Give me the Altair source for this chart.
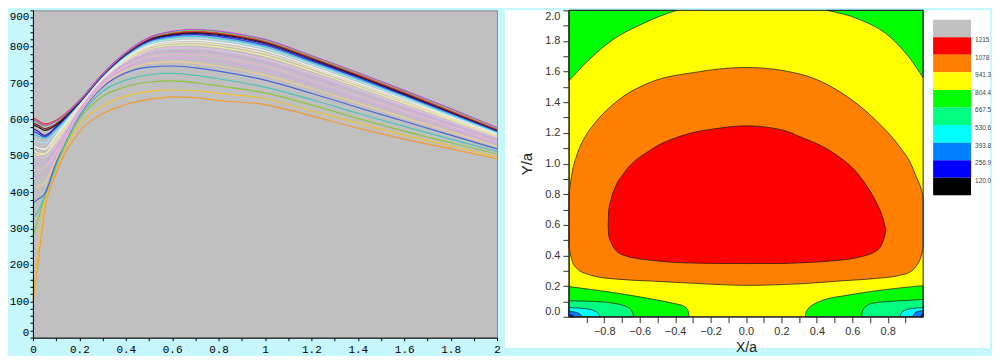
import altair as alt
import pandas as pd

# ---------------- left panel: family of curves ----------------
X = [0, 0.02, 0.05, 0.1, 0.2, 0.3, 0.4, 0.5, 0.6, 0.7, 0.8, 1.0, 1.2, 1.4, 1.6, 1.8, 2.0]

O1 = [97, 200, 350, 452, 566, 616, 641, 655, 662, 660, 652, 641, 610, 576, 546, 519, 492]
Y1 = [108, 225, 365, 466, 585, 637, 664, 677, 681, 679, 672, 657, 624, 590, 557, 527, 497]
G1 = [280, 320, 385, 470, 600, 663, 690, 703, 706, 701, 692, 673, 640, 603, 568, 536, 505]
T1 = [330, 345, 390, 476, 606, 677, 708, 723, 727, 721, 712, 689, 655, 617, 581, 546, 512]
B1 = [370, 380, 395, 482, 612, 689, 728, 744, 747, 742, 733, 708, 672, 633, 595, 557, 519]
P1 = [410, 415, 425, 490, 615, 694, 735, 754, 759, 755, 747, 722, 685, 645, 605, 566, 526]
L1 = [440, 442, 450, 500, 618, 698, 742, 764, 770, 767, 759, 735, 697, 656, 615, 574, 533]
L2 = [460, 462, 468, 510, 623, 702, 747, 772, 779, 778, 770, 746, 707, 665, 623, 581, 538]
L3 = [478, 478, 482, 520, 627, 705, 753, 780, 788, 788, 781, 757, 717, 674, 631, 587, 544]
L4 = [495, 494, 496, 530, 631, 708, 758, 787, 797, 797, 790, 766, 726, 683, 638, 593, 549]
LY = [505, 502, 505, 540, 634, 711, 762, 793, 804, 805, 799, 775, 734, 690, 645, 599, 553]
C1 = [515, 508, 505, 548, 637, 713, 766, 799, 810, 812, 806, 782, 741, 696, 650, 603, 557]
W1 = [528, 522, 518, 556, 640, 715, 769, 803, 815, 818, 812, 789, 746, 701, 655, 607, 560]
LC = [545, 540, 535, 565, 642, 717, 772, 808, 821, 824, 818, 795, 752, 707, 660, 611, 563]
CY = [560, 555, 548, 572, 645, 719, 775, 812, 825, 829, 823, 800, 757, 711, 664, 614, 566]
BL = [568, 562, 552, 578, 646, 720, 777, 815, 829, 833, 828, 804, 761, 715, 667, 617, 568]
NV = [575, 568, 556, 580, 647, 721, 779, 817, 832, 836, 831, 808, 764, 718, 669, 619, 570]
BK = [585, 580, 570, 585, 649, 722, 780, 820, 834, 839, 834, 811, 767, 720, 671, 621, 571]
MR = [590, 585, 575, 588, 650, 723, 781, 821, 836, 841, 836, 813, 769, 722, 673, 622, 572]
RD = [605, 598, 588, 598, 652, 724, 783, 823, 838, 843, 838, 815, 771, 724, 675, 624, 573]
GR = [598, 592, 582, 594, 651, 724, 783, 824, 840, 846, 841, 818, 774, 727, 678, 628, 576]
MG = [600, 594, 584, 596, 651, 725, 784, 825, 842, 848, 843, 820, 776, 729, 680, 630, 578]

SERIES = [
    ("O1", "#f39a34", O1), ("Y1", "#f2c230", Y1), ("G1", "#8cc63e", G1),
    ("T1", "#48c4b8", T1), ("B1", "#4a66dc", B1), ("P1", "#f2c996", P1),
    ("L1", "#d9a6e6", L1), ("L2", "#eab2da", L2), ("L3", "#cfa8e4", L3),
    ("L4", "#e6bceb", L4), ("LY", "#f1ee9c", LY), ("C1", "#f4e4bc", C1),
    ("W1", "#eef4f4", W1), ("LC", "#a4e6ee", LC), ("CY", "#44c8e4", CY),
    ("BL", "#2f48f2", BL), ("NV", "#2c1aa6", NV), ("BK", "#141414", BK),
    ("MR", "#8a1a1a", MR), ("RD", "#e23c3c", RD), ("GR", "#4fe04f", GR),
    ("MG", "#c24cd2", MG),
]
NAMES = [s[0] for s in SERIES]
COLORS = [s[1] for s in SERIES]

XT_LEFT = [0, 0.1, 0.2, 0.3, 0.4, 0.5, 0.6, 0.7, 0.8, 0.9, 1.0,
           1.1, 1.2, 1.3, 1.4, 1.5, 1.6, 1.7, 1.8, 1.9, 2.0]
YT_LEFT = list(range(0, 901, 20))

rows = []
for name, color, vals in SERIES:
    for xv, v in zip(X, vals):
        rows.append({"series": name, "x": xv, "v": v})
ldf = pd.DataFrame(rows)

left = alt.Chart(ldf).mark_line(strokeWidth=1.2, interpolate="monotone").encode(
    x=alt.X("x:Q", scale=alt.Scale(domain=[0, 2], nice=False, zero=False),
            axis=alt.Axis(title=None, values=XT_LEFT,
                          labelExpr="abs(round(datum.value*10)) % 2 == 0 ? format(datum.value, '~g') : ''",
                          labelFont="Liberation Mono", labelFontSize=11, labelColor="#000",
                          tickColor="#000", domainColor="#000", tickSize=3, labelPadding=3,
                          grid=False, labelOverlap=False, labelFlush=False, zindex=1)),
    y=alt.Y("v:Q", scale=alt.Scale(domain=[0, 900], nice=False, zero=False),
            axis=alt.Axis(title=None, values=YT_LEFT,
                          labelExpr="datum.value % 100 == 0 ? format(datum.value, 'd') : ''",
                          labelFont="Liberation Mono", labelFontSize=11, labelColor="#000",
                          tickColor="#000", domainColor="#000", tickSize=3, labelPadding=1,
                          grid=False, labelOverlap=False, labelFlush=True, zindex=1)),
    color=alt.Color("series:N", scale=alt.Scale(domain=NAMES, range=COLORS), legend=None),
).properties(width=465, height=328,
             view=alt.ViewBackground(fill="#c0c0c0", stroke="#8c8c8c"))

# ---------------- right panel: filled contours ----------------
XT_R = [-0.9, -0.8, -0.7, -0.6, -0.5, -0.4, -0.3, -0.2, -0.1, 0.0,
        0.1, 0.2, 0.3, 0.4, 0.5, 0.6, 0.7, 0.8, 0.9]
YT_R = [0.0, 0.1, 0.2, 0.3, 0.4, 0.5, 0.6, 0.7, 0.8, 0.9, 1.0,
        1.1, 1.2, 1.3, 1.4, 1.5, 1.6, 1.7, 1.8, 1.9, 2.0]

# red core (1078-1215)
RED_X = [-0.778, -0.775, -0.762, -0.74, -0.688, -0.538, -0.35, -0.163, 0.0,
         0.21, 0.305, 0.492, 0.642, 0.736, 0.765, 0.783, 0.79]
RED_LO = [0.60, 0.53, 0.487, 0.44, 0.40, 0.369, 0.352, 0.348, 0.347,
          0.348, 0.352, 0.365, 0.39, 0.43, 0.47, 0.53, 0.57]
RED_HI = [0.60, 0.69, 0.766, 0.84, 0.939, 1.089, 1.186, 1.229, 1.246,
          1.218, 1.175, 1.07, 0.917, 0.745, 0.67, 0.60, 0.57]

# orange band (941.3-1078)
OR_X = [-1.0, -0.98, -0.95, -0.9, -0.856, -0.725, -0.54, -0.29, 0.0,
        0.305, 0.548, 0.735, 0.867, 0.93, 0.96, 0.99, 1.0]
OR_LO = [0.455, 0.36, 0.31, 0.28, 0.265, 0.245, 0.233, 0.218, 0.205,
         0.215, 0.235, 0.25, 0.27, 0.295, 0.33, 0.40, 0.45]
OR_HI = [0.80, 0.95, 1.07, 1.19, 1.26, 1.41, 1.53, 1.595, 1.627,
         1.584, 1.455, 1.28, 1.11, 1.0, 0.917, 0.83, 0.79]

# green top corners (804.4-941.3)
GTL_X = [-1.0, -0.875, -0.762, -0.575, -0.48, -0.39]
GTL_Y = [1.54, 1.69, 1.80, 1.917, 1.965, 2.0]
GTR_X = [0.455, 0.642, 0.81, 0.923, 1.0]
GTR_Y = [2.0, 1.94, 1.83, 1.69, 1.56]

# bottom-left lobes
GBL_X = [-1.0, -0.856, -0.669, -0.48, -0.40, -0.35, -0.33, -0.324, -0.322]
GBL_Y = [0.197, 0.175, 0.143, 0.104, 0.085, 0.068, 0.045, 0.02, 0.0]
SBL_X = [-1.0, -0.856, -0.725, -0.66, -0.64, -0.635]
SBL_Y = [0.104, 0.10, 0.083, 0.057, 0.025, 0.0]
CBL_X = [-1.0, -0.9, -0.85, -0.83, -0.825]
CBL_Y = [0.06, 0.052, 0.035, 0.015, 0.0]
ABL_X = [-1.0, -0.95, -0.93, -0.925]
ABL_Y = [0.035, 0.025, 0.01, 0.0]
KBL_X = [-1.0, -0.975, -0.97]
KBL_Y = [0.015, 0.006, 0.0]

# bottom-right lobes
GBR_X = [0.335, 0.338, 0.35, 0.38, 0.417, 0.586, 0.773, 1.0]
GBR_Y = [0.0, 0.025, 0.05, 0.08, 0.10, 0.143, 0.175, 0.203]
SBR_X = [0.652, 0.656, 0.67, 0.717, 0.867, 1.0]
SBR_Y = [0.0, 0.03, 0.06, 0.089, 0.104, 0.113]
CBR_X = [0.87, 0.88, 0.92, 1.0]
CBR_Y = [0.0, 0.03, 0.05, 0.06]
ABR_X = [0.94, 0.96, 1.0]
ABR_Y = [0.0, 0.03, 0.04]
KBR_X = [0.98, 1.0]
KBR_Y = [0.0, 0.02]

X_MIN, X_MAX, Y_MIN, Y_MAX = -1.0, 1.0, 0.0, 2.0

RFONT = "Liberation Sans"
x_enc = alt.X("x:Q", scale=alt.Scale(domain=[X_MIN, X_MAX], nice=False, zero=False),
              axis=alt.Axis(title="X/a", values=XT_R,
                            labelExpr="abs(round(datum.value*10)) % 2 == 0 ? format(datum.value, '.1f') : ''",
                            labelFont=RFONT, labelFontSize=11, labelColor="#333",
                            tickColor="#333", domainColor="#333", tickSize=6, labelPadding=3,
                            titleFont=RFONT, titleFontSize=14, titleFontWeight="normal",
                            titleColor="#222", titlePadding=4,
                            grid=False, labelOverlap=False, labelFlush=False, zindex=1))
y_enc = alt.Y("y:Q", scale=alt.Scale(domain=[Y_MIN, Y_MAX], nice=False, zero=False),
              axis=alt.Axis(title="Y/a", values=YT_R,
                            labelExpr="abs(round(datum.value*10)) % 2 == 0 ? format(datum.value, '.1f') : ''",
                            labelFont=RFONT, labelFontSize=11, labelColor="#333",
                            tickColor="#333", domainColor="#333", tickSize=6, labelPadding=3,
                            titleFont=RFONT, titleFontSize=15, titleFontWeight="normal",
                            titleColor="#222", titlePadding=10,
                            grid=False, labelOverlap=False, labelFlush=True, zindex=1))

CW, CH = 355, 307

bg = alt.Chart(pd.DataFrame({"k": [0]})).mark_rect(fill="#ffffff").encode(
    x=alt.value(-64), x2=alt.value(422), y=alt.value(0), y2=alt.value(338))

frame_df = pd.DataFrame({"x": [X_MIN], "x2": [X_MAX], "y": [Y_MIN], "y2": [Y_MAX]})
yellow = alt.Chart(frame_df).mark_rect(fill="#ffff00").encode(
    x=x_enc, x2="x2:Q", y=y_enc, y2="y2:Q")
frame = alt.Chart(frame_df).mark_rect(fillOpacity=0, stroke="#222222", strokeWidth=1).encode(
    x=x_enc, x2="x2:Q", y=y_enc, y2="y2:Q")


def band(xs, lo, hi, color):
    df = pd.DataFrame({"x": xs, "y": lo, "y2": hi})
    return alt.Chart(df).mark_area(fill=color, stroke="#111111", strokeWidth=0.7,
                                   interpolate="monotone", fillOpacity=1).encode(
        x=x_enc, y=y_enc, y2="y2:Q")


layers = [
    bg, yellow,
    band(GTL_X, GTL_Y, [Y_MAX] * len(GTL_X), "#00ff00"),
    band(GTR_X, GTR_Y, [Y_MAX] * len(GTR_X), "#00ff00"),
    band(OR_X, OR_LO, OR_HI, "#ff8000"),
    band(RED_X, RED_LO, RED_HI, "#ff0000"),
    band(GBL_X, GBL_Y, [Y_MIN] * len(GBL_X), "#00ff00"),
    band(SBL_X, SBL_Y, [Y_MIN] * len(SBL_X), "#00ff80"),
    band(CBL_X, CBL_Y, [Y_MIN] * len(CBL_X), "#00ffff"),
    band(ABL_X, ABL_Y, [Y_MIN] * len(ABL_X), "#0080ff"),
    band(KBL_X, KBL_Y, [Y_MIN] * len(KBL_X), "#0000ff"),
    band(GBR_X, GBR_Y, [Y_MIN] * len(GBR_X), "#00ff00"),
    band(SBR_X, SBR_Y, [Y_MIN] * len(SBR_X), "#00ff80"),
    band(CBR_X, CBR_Y, [Y_MIN] * len(CBR_X), "#00ffff"),
    band(ABR_X, ABR_Y, [Y_MIN] * len(ABR_X), "#0080ff"),
    band(KBR_X, KBR_Y, [Y_MIN] * len(KBR_X), "#0000ff"),
    frame,
]
contour = alt.layer(*layers).properties(
    width=CW, height=CH, view=alt.ViewBackground(stroke="transparent"))

# ---------------- colour bar legend ----------------
LEG_COLORS = ["#c0c0c0", "#ff0000", "#ff8000", "#ffff00", "#00ff00",
              "#00ff80", "#00ffff", "#0080ff", "#0000ff", "#000000"]
LEG_LABELS = ["1215", "1078", "941.3", "804.4", "667.5", "530.6", "393.8", "256.9", "120.0"]

bdf = pd.DataFrame({"top": list(range(len(LEG_COLORS))),
                    "bot": [i + 1 for i in range(len(LEG_COLORS))],
                    "c": LEG_COLORS, "x0": [0] * len(LEG_COLORS), "x1": [1] * len(LEG_COLORS)})
tdf = pd.DataFrame({"pos": [i + 1 for i in range(len(LEG_LABELS))], "t": LEG_LABELS,
                    "x1": [1] * len(LEG_LABELS)})
ly_scale = alt.Scale(domain=[-0.53, 16.91], reverse=True, nice=False, zero=False)
lx_scale = alt.Scale(domain=[0, 1], nice=False, zero=False)

blocks = alt.Chart(bdf).mark_rect().encode(
    x=alt.X("x0:Q", scale=lx_scale, axis=None), x2="x1:Q",
    y=alt.Y("top:Q", scale=ly_scale, axis=None), y2="bot:Q",
    fill=alt.Fill("c:N", scale=None))
labels = alt.Chart(tdf).mark_text(align="left", baseline="middle", dx=4, dy=3,
                                  fontSize=6.5, font=RFONT, color="#444").encode(
    x=alt.X("x1:Q", scale=lx_scale, axis=None),
    y=alt.Y("pos:Q", scale=ly_scale, axis=None),
    text="t:N")
legend = alt.layer(blocks, labels).properties(
    width=38, height=CH, view=alt.ViewBackground(stroke="transparent"))

inner = alt.hconcat(contour, legend, spacing=10, bounds="flush")
chart = alt.hconcat(left, inner, spacing=72, bounds="flush").properties(
    padding=0, background="#c6f7ff")

chart.save("out.html", embed_options={"renderer": "svg", "actions": False})
